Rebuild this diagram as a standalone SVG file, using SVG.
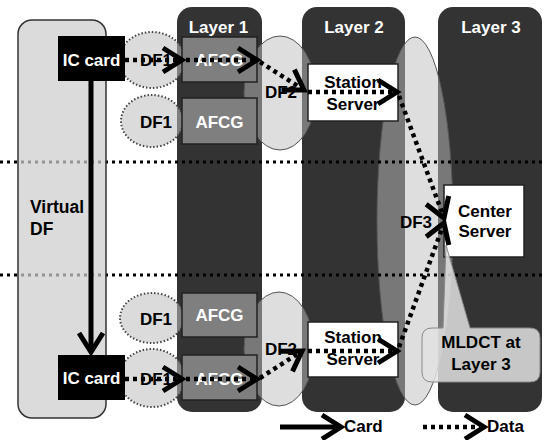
<svg xmlns="http://www.w3.org/2000/svg" width="546" height="440" viewBox="0 0 546 440">
<defs>
<style>
.col{fill:#333333;}
.lt{font-family:"Liberation Sans",Arial,sans-serif;font-weight:bold;font-size:17px;fill:#ffffff;text-anchor:middle;}
.bt{font-family:"Liberation Sans",Arial,sans-serif;font-weight:bold;font-size:17px;fill:#000000;text-anchor:middle;}
.df1{fill:#bdbdbd;fill-opacity:0.55;stroke:#444;stroke-width:2;stroke-dasharray:1.5 2;}
.dfb{fill:#bdbdbd;fill-opacity:0.5;stroke:#555;stroke-width:1;}
.afcg{fill:#7f7f7f;stroke:#222;stroke-width:1.5;}
.srv{fill:#ffffff;stroke:#222;stroke-width:1.5;}
.ic{fill:#000000;}
.sep{stroke:#000;stroke-width:3;stroke-dasharray:3 4;fill:none;}
.data{stroke:#000;stroke-width:4.5;stroke-dasharray:4 4;fill:none;marker-end:url(#chev);}
.card{stroke:#000;stroke-width:5;fill:none;marker-end:url(#chev);}
</style>
<marker id="chev" markerUnits="userSpaceOnUse" viewBox="-26 -16 30 32" markerWidth="30" markerHeight="32" refX="0" refY="0" orient="auto" overflow="visible">
<path d="M-19,-12 L0,0 L-19,12" fill="none" stroke="#000" stroke-width="5" stroke-dasharray="none"/>
</marker>
</defs>
<rect width="546" height="440" fill="#ffffff"/>

<g id="layer1"><rect class="col" x="177" y="7" width="85" height="405" rx="15"/><text class="lt" x="218.5" y="33">Layer 1</text></g>
<g id="layer2"><rect class="col" x="302" y="7" width="103" height="405" rx="15"/><text class="lt" x="354" y="33">Layer 2</text></g>
<g id="layer3"><rect class="col" x="438" y="7" width="104" height="405" rx="15"/><text class="lt" x="491" y="33">Layer 3</text></g>

<g id="df1-a"><ellipse class="df1" cx="152" cy="60" rx="33" ry="28"/></g>
<g id="df1-b"><ellipse class="df1" cx="152" cy="121" rx="31" ry="26"/><text class="bt" x="156" y="128">DF1</text></g>
<g id="df1-c"><ellipse class="df1" cx="152" cy="318" rx="32" ry="25"/><text class="bt" x="156" y="325">DF1</text></g>
<g id="df1-d"><ellipse class="df1" cx="152" cy="378" rx="33" ry="29"/></g>
<g id="df2-top"><ellipse class="dfb" cx="280" cy="93" rx="36" ry="57"/></g>
<g id="df2-bot"><ellipse class="dfb" cx="279" cy="349" rx="35" ry="57"/></g>
<g id="df3"><ellipse class="dfb" cx="415" cy="221" rx="38" ry="184"/></g>

<g id="separators">
<line class="sep" x1="0" y1="162" x2="546" y2="162"/>
<line class="sep" x1="0" y1="275" x2="546" y2="275"/>
</g>

<g id="virtual-df">
<rect x="18" y="20" width="88" height="398" rx="14" fill="#cdcdcd" fill-opacity="0.72" stroke="#333" stroke-width="1.5"/>
<text class="bt" x="30" y="213" style="text-anchor:start;font-size:17.5px">Virtual</text>
<text class="bt" x="30" y="235" style="text-anchor:start;font-size:17.5px">DF</text>
</g>

<g id="afcg-1"><rect class="afcg" x="182" y="37" width="75" height="45"/><text class="lt" x="219.5" y="66">AFCG</text></g>
<g id="afcg-2"><rect class="afcg" x="182" y="98" width="75" height="46"/><text class="lt" x="219.5" y="128">AFCG</text></g>
<g id="afcg-3"><rect class="afcg" x="182" y="293" width="75" height="44"/><text class="lt" x="219.5" y="321">AFCG</text></g>
<g id="afcg-4"><rect class="afcg" x="182" y="355" width="75" height="45"/><text class="lt" x="219.5" y="385">AFCG</text></g>

<g id="station-top"><rect class="srv" x="308" y="64" width="90" height="57"/><text class="bt" x="353" y="88">Station</text><text class="bt" x="353" y="110">Server</text></g>
<g id="station-bot"><rect class="srv" x="308" y="322" width="90" height="55"/><text class="bt" x="353" y="343">Station</text><text class="bt" x="353" y="365">Server</text></g>
<g id="center-server"><rect class="srv" x="444" y="185" width="80" height="72"/><text class="bt" x="485" y="217">Center</text><text class="bt" x="485" y="237">Server</text></g>

<g id="labels">
<text class="bt" x="156" y="66">DF1</text>
<text class="bt" x="156" y="385">DF1</text>
<text class="bt" x="281" y="98">DF2</text>
<text class="bt" x="281" y="355">DF2</text>
<text class="bt" x="416" y="228">DF3</text>
</g>

<g id="connectors">
<line class="card" x1="91" y1="81" x2="91" y2="352"/>
<line class="data" x1="125" y1="60" x2="182" y2="60"/>
<line class="data" x1="186" y1="60" x2="257" y2="60"/>
<line class="data" x1="260" y1="62" x2="304" y2="90"/>
<line class="data" x1="308" y1="92" x2="397" y2="92"/>
<line class="data" x1="399" y1="96" x2="444" y2="218"/>
<line class="data" x1="125" y1="379" x2="182" y2="379"/>
<line class="data" x1="186" y1="379" x2="257" y2="379"/>
<line class="data" x1="260" y1="378" x2="302" y2="351"/>
<line class="data" x1="308" y1="351" x2="397" y2="351"/>
<line class="data" x1="399" y1="347" x2="444" y2="223"/>
</g>

<g id="ic-card-top"><rect class="ic" x="58" y="36" width="67" height="45"/><text class="lt" x="91.5" y="66">IC card</text></g>
<g id="ic-card-bot"><rect class="ic" x="58" y="355" width="67" height="45"/><text class="lt" x="91.5" y="384">IC card</text></g>

<g id="mldct">
<path d="M432,328 L443,328 L446,245 L470,328 L530,328 Q540,328 540,338 L540,372 Q540,382 530,382 L432,382 Q422,382 422,372 L422,338 Q422,328 432,328 Z" fill="#e2e2e2" fill-opacity="0.85" stroke="#888" stroke-width="1"/>
<text class="bt" x="481" y="348">MLDCT at</text>
<text class="bt" x="481" y="370">Layer 3</text>
</g>

<g id="legend">
<line class="card" x1="280" y1="427" x2="341" y2="427"/>
<text class="bt" x="344" y="432" style="text-anchor:start">Card</text>
<line class="data" x1="423" y1="427" x2="484" y2="427"/>
<text class="bt" x="487" y="432" style="text-anchor:start">Data</text>
</g>
</svg>
